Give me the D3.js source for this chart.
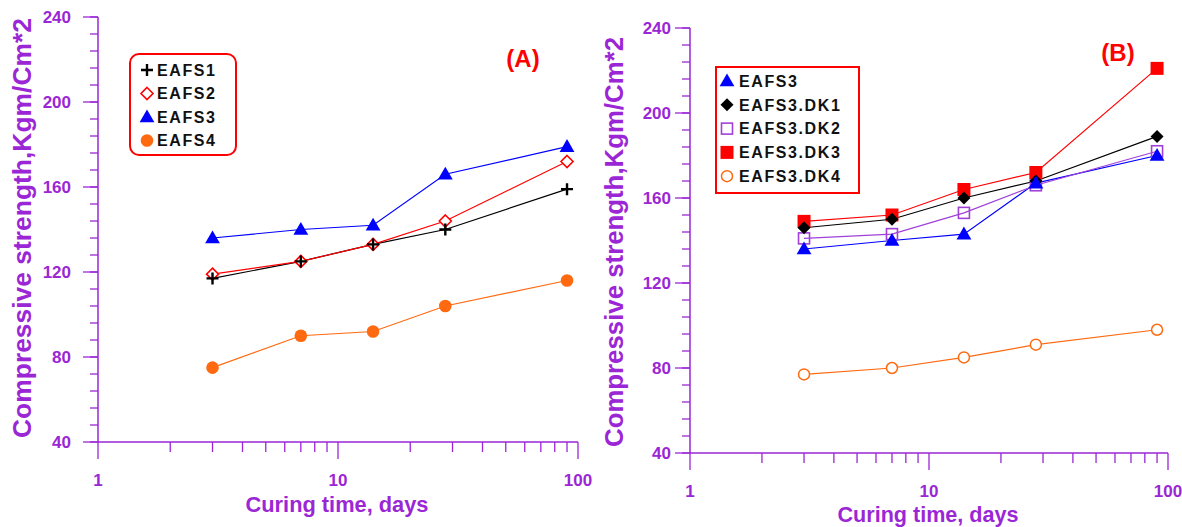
<!DOCTYPE html>
<html><head><meta charset="utf-8">
<script src="https://cdn.jsdelivr.net/npm/d3@7"></script>
<style>
html,body{margin:0;padding:0;background:#fff;}
svg{display:block;font-family:"Liberation Sans",Arial,sans-serif;}
</style></head>
<body><svg id="c" width="1182" height="527"></svg>
<script>
// ---- data ----
const days = [3, 7, 14, 28, 90];
const yTicks = [40, 80, 120, 160, 200, 240];
const xTickLabels = ["1", "10", "100"];

// Panel A
const EAFS1 = [117, 125, 133, 140, 159];
const EAFS2 = [119, 125, 133, 144, 172];
const EAFS3 = [136, 140, 142, 166, 179];
const EAFS4 = [75, 90, 92, 104, 116];

// Panel B
const B_EAFS3 = [136, 140, 143, 167, 180];
const DK1 = [146, 150, 160, 168, 189];
const DK2 = [141, 143, 153, 166, 182];
const DK3 = [149, 152, 164, 172, 221];
const DK4 = [77, 80, 85, 91, 98];

const purple = "#9b26d6";
const svg = d3.select("#c");

const markers = {
  plus: (g, c) => g.append("path").attr("d", "M-6,0H6M0,-6V6").attr("stroke", c).attr("stroke-width", 2.4).attr("fill", "none"),
  diamondOpen: (g, c) => g.append("path").attr("d", "M0,-6L6,0L0,6L-6,0Z").attr("stroke", c).attr("stroke-width", 1.6).attr("fill", "#fff"),
  diamond: (g, c) => g.append("path").attr("d", "M0,-6.5L6.5,0L0,6.5L-6.5,0Z").attr("fill", c),
  triangle: (g, c) => g.append("path").attr("d", d3.symbol(d3.symbolTriangle, 95)()).attr("transform", "translate(0,1)").attr("fill", c),
  circle: (g, c) => g.append("circle").attr("r", 6.3).attr("fill", c),
  circleOpen: (g, c) => g.append("circle").attr("r", 5.5).attr("fill", "#fff").attr("stroke", c).attr("stroke-width", 1.5),
  square: (g, c) => g.append("rect").attr("x", -6.5).attr("y", -6.5).attr("width", 13).attr("height", 13).attr("fill", c),
  squareOpen: (g, c) => g.append("rect").attr("x", -5.5).attr("y", -5.5).attr("width", 11).attr("height", 11).attr("fill", "none").attr("stroke", c).attr("stroke-width", 1.6)
};

function fitText(t, target) {
  const len = t.node().getComputedTextLength();
  const fs = parseFloat(t.attr("font-size"));
  t.attr("font-size", (fs * target / len).toFixed(2));
}

function drawPanel(p) {
  const x = d3.scaleLog().domain([1, 100]).range([p.x0, p.x1]);
  const y = d3.scaleLinear().domain([40, 240]).range([p.y0, p.y1]);
  const g = svg.append("g");

  // y axis
  const yMinor = d3.range(40, 240.1, 8);
  g.selectAll(".ymin").data(yMinor).join("line")
    .attr("x1", p.x0 - 8).attr("x2", p.x0).attr("y1", d => y(d)).attr("y2", d => y(d))
    .attr("stroke", purple).attr("stroke-width", 1.3);
  g.selectAll(".ymaj").data(yTicks).join("line")
    .attr("x1", p.x0 - 15).attr("x2", p.x0).attr("y1", d => y(d)).attr("y2", d => y(d))
    .attr("stroke", purple).attr("stroke-width", 1.3);
  g.append("line").attr("x1", p.x0).attr("x2", p.x0).attr("y1", y(40)).attr("y2", y(240))
    .attr("stroke", purple).attr("stroke-width", 1.5);
  g.selectAll(".ylab").data(yTicks).join("text")
    .attr("x", p.yLabRight).attr("y", d => y(d)).attr("dy", "0.35em")
    .attr("text-anchor", "end").attr("font-size", 17).attr("font-weight", "bold")
    .attr("fill", purple).text(d => d);

  // x axis
  const xMinor = [2,3,4,5,6,7,8,9,20,30,40,50,60,70,80,90];
  g.selectAll(".xmin").data(xMinor).join("line")
    .attr("x1", d => x(d)).attr("x2", d => x(d)).attr("y1", y(40)).attr("y2", y(40) + 10)
    .attr("stroke", purple).attr("stroke-width", 1.3);
  const xMaj = [1, 10, 100];
  g.selectAll(".xmaj").data(xMaj).join("line")
    .attr("x1", d => x(d)).attr("x2", d => x(d)).attr("y1", y(40)).attr("y2", y(40) + 17)
    .attr("stroke", purple).attr("stroke-width", 1.3);
  g.append("line").attr("x1", p.x0).attr("x2", x(100)).attr("y1", y(40)).attr("y2", y(40))
    .attr("stroke", purple).attr("stroke-width", 1.5);
  g.selectAll(".xlab").data(xMaj).join("text")
    .attr("x", d => x(d)).attr("y", y(40) + p.xLabOff).attr("dy", "0.35em")
    .attr("text-anchor", "middle").attr("font-size", 17).attr("font-weight", "bold")
    .attr("fill", purple).text((d, i) => xTickLabels[i]);

  // titles
  const xt = g.append("text").attr("x", p.xTitle[0]).attr("y", p.xTitle[1]).attr("dy", "0.35em")
    .attr("text-anchor", "middle").attr("font-size", 20).attr("font-weight", "bold")
    .attr("fill", purple).text("Curing time, days");
  fitText(xt, p.xTitleLen);
  const yt = g.append("text").attr("transform", `translate(${p.yTitle[0]},${p.yTitle[1]}) rotate(-90)`)
    .attr("dy", "0.35em").attr("text-anchor", "middle").attr("font-size", 20).attr("font-weight", "bold")
    .attr("fill", purple).text("Compressive strength,Kgm/Cm*2");
  fitText(yt, p.yTitleLen);

  // series lines
  const line = d3.line().x((d, i) => x(days[i])).y(d => y(d));
  p.series.forEach(s => {
    g.append("path").datum(s.values).attr("d", line).attr("fill", "none")
      .attr("stroke", s.line).attr("stroke-width", 1.2);
  });
  p.series.slice().reverse().forEach(s => {
    s.values.forEach((v, i) => {
      const m = g.append("g").attr("transform", `translate(${x(days[i])},${y(v)})`);
      markers[s.marker](m, s.color);
    });
  });

  // panel label
  g.append("text").attr("x", p.tag[0]).attr("y", p.tag[1]).attr("dy", "0.35em")
    .attr("text-anchor", "middle").attr("font-size", 24).attr("font-weight", "bold")
    .attr("fill", "#ff0000").text(p.tag[2]);

  // legend
  const L = p.legend;
  g.append("rect").attr("x", L.x).attr("y", L.y).attr("width", L.w).attr("height", L.h)
    .attr("rx", L.r).attr("ry", L.r).attr("fill", "#fff").attr("stroke", "#ff0000").attr("stroke-width", 2);
  p.series.forEach((s, i) => {
    const ry = L.y + L.first + i * L.step;
    const m = g.append("g").attr("transform", `translate(${L.x + L.mx},${ry})`);
    markers[s.marker](m, s.color);
    g.append("text").attr("x", L.x + L.tx).attr("y", ry).attr("dy", "0.36em")
      .attr("font-size", 16).attr("font-weight", "bold").attr("letter-spacing", "1.6px")
      .attr("fill", "#111").text(s.name);
  });
}

drawPanel({
  x0: 98, x1: 578, y0: 442, y1: 17, yLabRight: 71, xLabOff: 38,
  xTitle: [337, 504], xTitleLen: 183, yTitle: [22, 228], yTitleLen: 420,
  tag: [523, 59, "(A)"],
  legend: { x: 130, y: 54, w: 106, h: 101, r: 9, first: 16, step: 23.5, mx: 17, tx: 27 },
  series: [
    { name: "EAFS1", values: EAFS1, marker: "plus", color: "#000", line: "#000" },
    { name: "EAFS2", values: EAFS2, marker: "diamondOpen", color: "#ff0000", line: "#ff0000" },
    { name: "EAFS3", values: EAFS3, marker: "triangle", color: "#0000ff", line: "#0000ff" },
    { name: "EAFS4", values: EAFS4, marker: "circle", color: "#ff6a10", line: "#ff6a10" }
  ]
});

drawPanel({
  x0: 690, x1: 1168, y0: 453, y1: 28, yLabRight: 671, xLabOff: 38,
  xTitle: [928, 514], xTitleLen: 181, yTitle: [614, 242], yTitleLen: 410,
  tag: [1118, 53, "(B)"],
  legend: { x: 716, y: 67, w: 143, h: 126, r: 0, first: 14, step: 23.8, mx: 11, tx: 23 },
  series: [
    { name: "EAFS3", values: B_EAFS3, marker: "triangle", color: "#0000ff", line: "#0000ff" },
    { name: "EAFS3.DK1", values: DK1, marker: "diamond", color: "#000", line: "#000" },
    { name: "EAFS3.DK2", values: DK2, marker: "squareOpen", color: "#a040d8", line: "#a040d8" },
    { name: "EAFS3.DK3", values: DK3, marker: "square", color: "#ff0000", line: "#ff0000" },
    { name: "EAFS3.DK4", values: DK4, marker: "circleOpen", color: "#ff6a10", line: "#ff6a10" }
  ]
});
</script>
</body></html>
